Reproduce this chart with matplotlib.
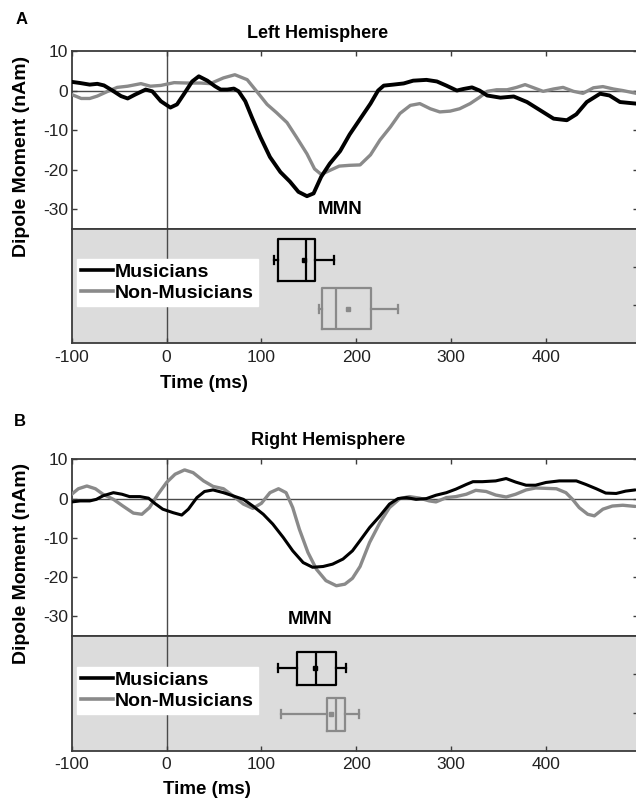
import matplotlib
matplotlib.use('Agg')
import matplotlib.pyplot as plt
from matplotlib.lines import Line2D

plt.rcParams['font.family'] = ['Liberation Sans', 'DejaVu Sans']

# ---------------- data ----------------
x_ticks = [-100, 0, 100, 200, 300, 400]
y_ticks = [-30, -20, -10, 0, 10]
group_labels = ['Musicians', 'Non-Musicians']

# Panel A (Left hemisphere)
A_t_mus = [-100, -91, -81, -73, -66, -57, -48, -41, -33, -22, -15, -6, 4, 11, 18, 27, 34, 43, 51, 57,
           64, 71, 76, 83, 90, 99, 109, 120, 130, 139, 148, 155, 163, 172, 183, 193, 204, 215, 223,
           229, 239, 250, 260, 274, 285, 295, 306, 313, 322, 330, 338, 352, 366, 380, 394, 408, 422,
           432, 443, 457, 467, 478, 495]
A_mus = [2.2, 1.9, 1.5, 1.7, 1.3, 0.0, -1.4, -2.0, -1.0, 0.25, -0.2, -2.7, -4.3, -3.5, -1.0, 2.3, 3.6,
         2.5, 1.1, 0.25, 0.25, 0.5, -0.2, -2.7, -6.8, -11.8, -16.8, -20.6, -23.0, -25.6, -26.7, -26.0,
         -21.8, -18.5, -15.3, -11.1, -7.2, -3.3, 0.0, 1.25, 1.5, 1.8, 2.5, 2.7, 2.3, 1.25, 0.0, 0.4,
         0.8, 0.0, -1.25, -1.8, -1.5, -2.9, -5.0, -7.1, -7.5, -6.0, -2.9, -0.8, -1.25, -2.9, -3.3]
A_t_non = [-100, -90, -81, -73, -62, -52, -41, -27, -17, -6, 8, 22, 36, 46, 60, 72, 85, 95, 106, 116,
           127, 137, 148, 156, 163, 172, 182, 193, 204, 215, 225, 236, 246, 257, 267, 278, 288, 299,
           309, 320, 330, 338, 348, 359, 369, 378, 387, 397, 408, 418, 429, 439, 450, 460, 471, 481, 495]
A_non = [-1.0, -2.0, -2.0, -1.4, -0.2, 0.8, 1.1, 1.75, 1.1, 1.3, 2.0, 1.9, 1.9, 1.75, 3.2, 4.0, 2.75,
         -0.2, -3.5, -5.6, -8.1, -11.8, -16.0, -19.8, -21.2, -20.2, -19.1, -18.9, -18.8, -16.25, -12.5,
         -9.2, -5.8, -3.75, -3.3, -4.6, -5.4, -5.2, -4.6, -3.3, -1.7, -0.2, 0.2, 0.2, 0.8, 1.5, 0.7,
         -0.2, 0.4, 0.8, -0.2, -0.7, 0.7, 1.0, 0.4, 0.0, -0.7]

# Panel B (Right hemisphere)
B_t_mus = [-100, -91, -81, -74, -67, -56, -47, -39, -28, -19, -12, -4, 7, 16, 23, 32, 40, 49, 60, 70,
           81, 91, 102, 112, 123, 133, 144, 154, 165, 175, 186, 196, 204, 214, 225, 235, 244, 253,
           263, 274, 284, 295, 305, 316, 323, 333, 347, 358, 368, 379, 389, 400, 414, 432, 442, 453,
           463, 474, 484, 494]
B_mus = [-0.85, -0.6, -0.6, -0.2, 0.7, 1.5, 1.1, 0.5, 0.5, 0.1, -1.3, -2.7, -3.6, -4.2, -2.7, 0.25,
         1.8, 2.2, 1.5, 0.7, -0.2, -1.9, -4.0, -6.5, -9.9, -13.3, -16.3, -17.5, -17.3, -16.7, -15.4,
         -13.3, -10.7, -7.4, -4.4, -1.4, 0.0, 0.25, -0.2, 0.0, 0.85, 1.5, 2.4, 3.6, 4.3, 4.3, 4.5,
         5.1, 4.2, 3.4, 3.4, 4.1, 4.5, 4.5, 3.6, 2.5, 1.4, 1.3, 1.9, 2.2]
B_t_non = [-100, -93, -84, -75, -67, -56, -46, -35, -26, -18, -9, 0, 9, 19, 28, 39, 49, 60, 70, 81, 91,
           100, 109, 118, 126, 133, 140, 149, 158, 168, 179, 188, 196, 204, 214, 225, 235, 246, 256,
           267, 277, 284, 295, 305, 316, 326, 337, 347, 358, 368, 379, 389, 400, 411, 421, 428, 435,
           444, 451, 460, 470, 481, 494]
B_non = [1.1, 2.5, 3.2, 2.5, 1.1, -0.2, -1.9, -3.7, -4.0, -2.3, 1.1, 4.1, 6.2, 7.3, 6.6, 4.5, 3.1, 2.5,
         0.7, -1.4, -2.5, -1.2, 1.5, 2.5, 1.5, -2.3, -7.8, -13.7, -18.0, -20.9, -22.2, -21.8, -20.3,
         -17.3, -11.2, -6.1, -2.3, 0.0, 0.5, 0.1, -0.6, -0.85, 0.25, 0.5, 1.1, 2.1, 1.8, 0.9, 0.4,
         1.1, 2.2, 2.7, 2.6, 2.5, 1.5, -0.2, -2.3, -4.0, -4.4, -2.7, -1.9, -1.7, -2.0]

# MMN latency box-plot statistics (ms): [Musicians, Non-Musicians]
A_whislo = [113, 161]
A_q1 = [118, 164]
A_med = [147, 179]
A_q3 = [157, 215]
A_whishi = [176, 244]
A_mean = [145, 191]

B_whislo = [118, 120.5]
B_q1 = [137, 169]
B_med = [158, 179]
B_q3 = [179, 188]
B_whishi = [189, 203]
B_mean = [157, 173.5]

# ---------------- figure ----------------
W, H = 636, 800
fig = plt.figure(figsize=(W / 100, H / 100), dpi=100)

BLACK = '#000000'
GRAY = '#8a8a8a'
LINE = '#4a4a4a'
SPINE = '#3c3c3c'
FILL = '#dcdcdc'


def px_x(p):
    return p / W


def px_y(p):
    return 1 - p / H


def panel(top, mid, bot, t_mus, mus, t_non, non, stats, positions, bw, lws,
          title, title_xy, letter_xy, mmn_xy, ylabel_y, xlabel_xy, leg_top):
    left, right = 71.7, 638.0
    ax1 = fig.add_axes([px_x(left), px_y(mid), (right - left) / W, (mid - top) / H])
    ax2 = fig.add_axes([px_x(left), px_y(bot), (right - left) / W, (bot - mid) / H])
    for ax in (ax1, ax2):
        ax.set_xlim(-100, 497)
        for s in ax.spines.values():
            s.set_color(SPINE)
            s.set_linewidth(1.3)
    # curves
    ax1.set_ylim(-35, 10)
    ax1.axhline(0, color=LINE, lw=1.0, zorder=1)
    ax1.axvline(0, color=LINE, lw=1.0, zorder=1)
    ax1.plot(t_non, non, color=GRAY, lw=lws[1], solid_joinstyle='round',
             solid_capstyle='round', zorder=3)
    ax1.plot(t_mus, mus, color=BLACK, lw=lws[0], solid_joinstyle='round',
             solid_capstyle='round', zorder=4)
    ax1.set_xticks(x_ticks)
    ax1.set_yticks(y_ticks)
    ax1.set_yticklabels([str(v) for v in y_ticks])
    ax1.tick_params(axis='both', direction='in', length=3.6, width=1.0, color=SPINE,
                    top=True, bottom=False, left=True, right=True,
                    labelbottom=False, labelsize=12.5, pad=2.7, labelcolor='#222222')
    ax1.text(mmn_xy[0], mmn_xy[1], 'MMN', ha='center', va='center',
             fontsize=13.5, fontweight='bold')

    # boxes
    ax2.set_facecolor(FILL)
    ax2.axvline(0, color=LINE, lw=1.0, zorder=1)
    cols = [BLACK, GRAY]
    for i in range(2):
        st = [dict(med=stats[2][i], q1=stats[1][i], q3=stats[3][i],
                   whislo=stats[0][i], whishi=stats[4][i], mean=stats[5][i], fliers=[])]
        c = cols[i]
        ax2.bxp(st, positions=[positions[i]], widths=bw, orientation='horizontal',
                showmeans=True, showfliers=False, capwidths=0.21,
                boxprops=dict(color=c, lw=1.6),
                medianprops=dict(color=c, lw=1.6),
                whiskerprops=dict(color=c, lw=1.6),
                capprops=dict(color=c, lw=1.6),
                meanprops=dict(marker='s', markersize=3, markerfacecolor=c,
                               markeredgecolor=c))
    ax2.set_xlim(-100, 497)
    ax2.set_ylim(0, 3)
    ax2.set_xticks(x_ticks)
    ax2.set_xticklabels([str(v) for v in x_ticks])
    ax2.set_yticks([1, 2])
    ax2.tick_params(axis='x', direction='in', length=3.6, width=1.0, color=SPINE,
                    top=False, bottom=True, labelsize=12.5, pad=4.5, labelcolor='#222222')
    ax2.tick_params(axis='y', direction='in', length=3.6, width=1.0, color=SPINE,
                    left=False, right=True, labelleft=False, labelright=False)
    handles = [Line2D([], [], color=BLACK, lw=2.6), Line2D([], [], color=GRAY, lw=2.6)]
    leg = ax2.legend(handles, group_labels, loc='upper left',
                     bbox_to_anchor=(0.0088, leg_top), borderaxespad=0,
                     frameon=True, fancybox=False, framealpha=1.0,
                     prop=dict(weight='bold', size=14), handlelength=1.65,
                     handletextpad=0.12, borderpad=0.2, labelspacing=0.2)
    leg.get_frame().set_edgecolor('white')
    leg.get_frame().set_facecolor('white')
    leg.set_zorder(10)

    fig.text(px_x(title_xy[0]), px_y(title_xy[1]), title, ha='center', va='center',
             fontsize=13, fontweight='bold')
    fig.text(px_x(letter_xy[0]), px_y(letter_xy[1]), letter_xy[2], ha='center', va='center',
             fontsize=12, fontweight='bold')
    fig.text(px_x(21.7), px_y(ylabel_y), 'Dipole Moment (nAm)', rotation=90,
             ha='center', va='center', fontsize=14, fontweight='bold')
    fig.text(px_x(xlabel_xy[0]), px_y(xlabel_xy[1]), 'Time (ms)', ha='center', va='center',
             fontsize=13.5, fontweight='bold')


panel(51, 229, 343.3, A_t_mus, A_mus, A_t_non, A_non,
      (A_whislo, A_q1, A_med, A_q3, A_whishi, A_mean), [2.19, 0.91], 1.09, (2.8, 2.4),
      'Left Hemisphere', (318, 33), (22, 20, 'A'), (183, -30), 156, (204, 383), 0.735)

panel(459.3, 636, 751, B_t_mus, B_mus, B_t_non, B_non,
      (B_whislo, B_q1, B_med, B_q3, B_whishi, B_mean), [2.16, 0.96], 0.87, (2.2, 2.4),
      'Right Hemisphere', (328, 440), (20, 422, 'B'), (151, -30.8), 563, (207, 790), 0.728)

fig.savefig('out.png', dpi=100)
